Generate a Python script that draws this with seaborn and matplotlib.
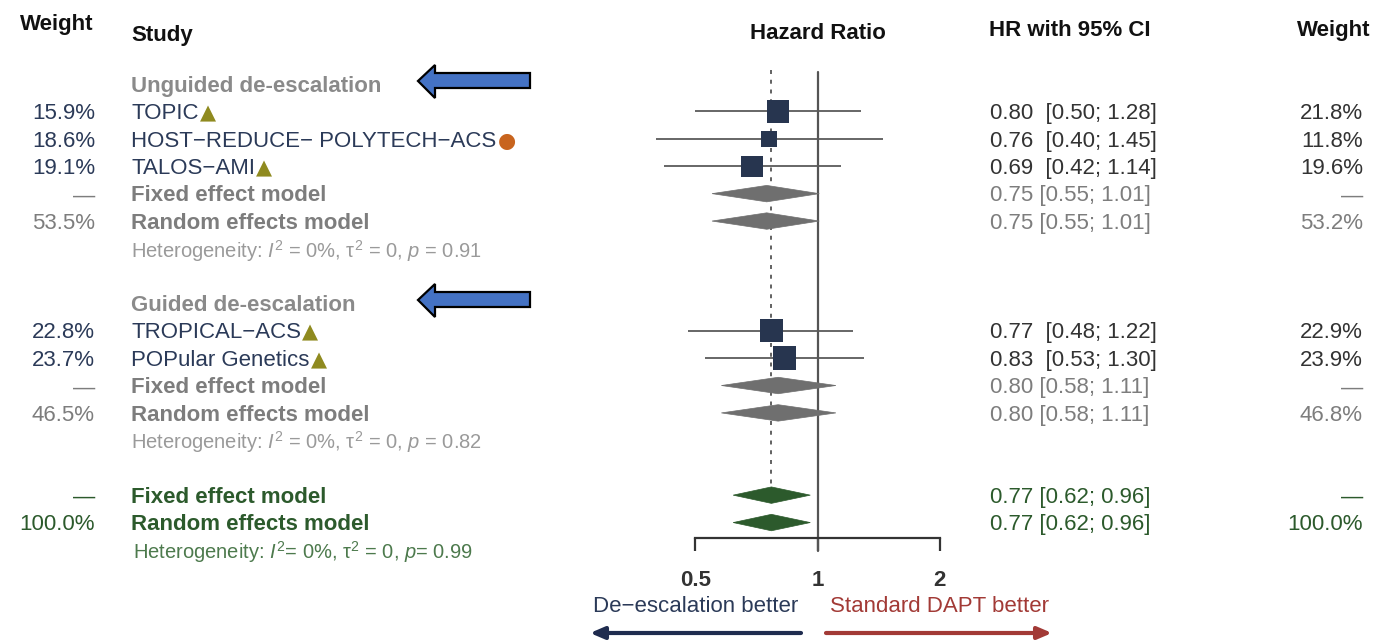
import numpy as np
import pandas as pd
import matplotlib
matplotlib.use("Agg")
import matplotlib.pyplot as plt
import seaborn as sns
from matplotlib.patches import Polygon
from matplotlib.ticker import FixedLocator, FixedFormatter, NullLocator

sns.set_theme(style="ticks")
plt.rcParams["font.family"] = ["Liberation Sans", "DejaVu Sans"]
plt.rcParams["mathtext.fontset"] = "custom"
plt.rcParams["mathtext.rm"] = "Liberation Sans"
plt.rcParams["mathtext.it"] = "Liberation Sans:italic"
plt.rcParams["mathtext.bf"] = "Liberation Sans:bold"

# ---- individual trials ----
study_names = ["TOPIC", "HOST−REDUCE− POLYTECH−ACS", "TALOS−AMI",
               "TROPICAL−ACS", "POPular Genetics"]
study_hr = [0.80, 0.76, 0.69, 0.77, 0.83]
study_lo = [0.50, 0.40, 0.42, 0.48, 0.53]
study_hi = [1.28, 1.45, 1.14, 1.22, 1.30]
study_weight_left = ["15.9%", "18.6%", "19.1%", "22.8%", "23.7%"]
study_weight_right = [21.8, 11.8, 19.6, 22.9, 23.9]
study_badge = ["▲", "●", "▲", "▲", "▲"]

# ---- pooled estimates (subgroup 1, subgroup 2, overall) ----
model_labels = ["Fixed effect model", "Random effects model"] * 3
model_hr = [0.75, 0.75, 0.80, 0.80, 0.77, 0.77]
model_lo = [0.55, 0.55, 0.58, 0.58, 0.62, 0.62]
model_hi = [1.01, 1.01, 1.11, 1.11, 0.96, 0.96]
model_weight_left = ["—", "53.5%", "—", "46.5%", "—", "100.0%"]
model_weight_right = ["—", "53.2%", "—", "46.8%", "—", "100.0%"]

group_titles = ["Unguided de-escalation", "Guided de-escalation"]
heterogeneity = [
    r"Heterogeneity: $I^2$ = 0%, τ$^2$ = 0, $p$ = 0.91",
    r"Heterogeneity: $I^2$ = 0%, τ$^2$ = 0, $p$ = 0.82",
    r"Heterogeneity: $I^2$= 0%, τ$^2$ = 0, $p$= 0.99",
]

tick_values = [0.5, 1, 2]
tick_labels = ["0.5", "1", "2"]
favours = ["De−escalation better", "Standard DAPT better"]

# ---- row layout ----
group_rows = [0, 8]
study_rows = [1, 2, 3, 9, 10]
model_rows = [4, 5, 11, 12, 15, 16]
het_rows = [6, 13, 17]

# ---- colours ----
NAVY = "#2b3a58"
SQUARE = "#27354f"
GREY_TXT = "#7d7d7d"
GREY_LIGHT = "#9a9a9a"
GREY_DIA = "#6f6f6f"
GREEN = "#2c5a2c"
GREEN_LIGHT = "#4d7a4d"
DARK = "#333333"
RED = "#a23a36"

W, H = 1376, 641
ROW0, ROWH = 84.0, 27.41
TXT_SHIFT = 0.08


def row_of(py):
    return (py - ROW0) / ROWH


fig = plt.figure(figsize=(W / 100, H / 100), dpi=100)
ax = fig.add_axes([0, 0, 1, 1])
ax.set_xscale("log", base=2)
X_ONE, X_OCT = 817.5, 122.3
ax.set_xlim(2 ** (-X_ONE / X_OCT), 2 ** ((W - X_ONE) / X_OCT))
ax.set_ylim(row_of(H), row_of(0))

yt = ax.get_yaxis_transform()


def put(px, row, s, **kw):
    kw.setdefault("fontsize", 16)
    kw.setdefault("va", "center")
    return ax.text(px / W, row + TXT_SHIFT, s, transform=yt, **kw)


# reference lines
ax.plot([1, 1], [row_of(72), row_of(551)], color="#555555", lw=1.6, zorder=1)
ax.plot([model_hr[5], model_hr[5]], [row_of(70), row_of(487)], color="#555555",
        lw=1.3, ls=(0, (2.2, 3.2)), zorder=1)

# confidence intervals and weighted squares
ax.hlines(study_rows, study_lo, study_hi, color="#5a5a5a", lw=1.3, zorder=2)
df = pd.DataFrame({"hr": study_hr, "row": study_rows, "w": study_weight_right})
wmin, wmax = min(study_weight_right), max(study_weight_right)
sns.scatterplot(data=df, x="hr", y="row", size="w",
                sizes=(12 * wmin, 12 * wmax), size_norm=(wmin, wmax),
                marker="s", color=SQUARE, edgecolor=SQUARE, linewidth=0,
                legend=False, ax=ax, zorder=3)

# pooled diamonds
half = 0.3
for i, (r, m, lo, hi) in enumerate(zip(model_rows, model_hr, model_lo, model_hi)):
    col = GREEN if i >= 4 else GREY_DIA
    ax.add_patch(Polygon([(lo, r), (m, r - half), (hi, r), (m, r + half)],
                         closed=True, facecolor=col, edgecolor=col, lw=0.5,
                         zorder=3))

# x axis drawn as a bracket under the plot
ax.set_xlabel("")
ax.set_ylabel("")
for s in ["top", "left", "right"]:
    ax.spines[s].set_visible(False)
ax.spines["bottom"].set_position(("data", row_of(538)))
ax.spines["bottom"].set_bounds(0.5, 2)
ax.spines["bottom"].set_color("#333333")
ax.spines["bottom"].set_linewidth(1.6)
ax.xaxis.set_major_locator(FixedLocator(tick_values))
ax.xaxis.set_major_formatter(FixedFormatter(tick_labels))
ax.xaxis.set_minor_locator(NullLocator())
ax.yaxis.set_major_locator(NullLocator())
ax.tick_params(axis="x", bottom=True, direction="out", length=9.4, width=1.6,
               color="#333333", labelsize=16, labelcolor="#333333", pad=13.5)
for lab in ax.get_xticklabels():
    lab.set_fontweight("bold")
ax.grid(False)

# column headers
put(93, row_of(22), "Weight", ha="right", fontweight="bold", color="#111111")
put(131, row_of(33), "Study", ha="left", fontweight="bold", color="#111111")
ax.text(1, row_of(31) + TXT_SHIFT, "Hazard Ratio", ha="center", va="center",
        fontsize=16, fontweight="bold", color="#111111")
put(989, row_of(28), "HR with 95% CI", ha="left", fontweight="bold", color="#111111")
put(1370, row_of(28), "Weight", ha="right", fontweight="bold", color="#111111")

# subgroup titles
for r, t in zip(group_rows, group_titles):
    put(131, r, t, ha="left", fontweight="bold", color="#8a8a8a")

# trial rows
for i, r in enumerate(study_rows):
    put(95, r, study_weight_left[i], ha="right", color=NAVY)
    name = put(131, r, study_names[i], ha="left", color=NAVY)
    badge_col = "#c8641e" if study_badge[i] == "●" else "#8f8a1f"
    ax.annotate(study_badge[i], xy=(1, 0.5), xycoords=name, xytext=(1, 0),
                textcoords="offset points", ha="left", va="center",
                fontsize=15, color=badge_col, family=["DejaVu Sans"])
    put(990, r, f"{study_hr[i]:.2f}  [{study_lo[i]:.2f}; {study_hi[i]:.2f}]",
        ha="left", color=DARK)
    put(1363, r, f"{study_weight_right[i]:.1f}%", ha="right", color=DARK)

# pooled rows
for i, r in enumerate(model_rows):
    overall = i >= 4
    col = GREEN if overall else GREY_TXT
    put(95, r, model_weight_left[i], ha="right", color=col)
    put(131, r, model_labels[i], ha="left", fontweight="bold", color=col)
    put(990, r, f"{model_hr[i]:.2f} [{model_lo[i]:.2f}; {model_hi[i]:.2f}]",
        ha="left", color=col)
    put(1363, r, model_weight_right[i], ha="right", color=col)

# heterogeneity statistics
for i, r in enumerate(het_rows):
    col = GREEN_LIGHT if i == 2 else GREY_LIGHT
    put(131 if i < 2 else 133, r, heterogeneity[i], ha="left", fontsize=14.5,
        color=col)

# direction labels and arrows
ax.text(0.5, row_of(606), favours[0], ha="center", va="center", fontsize=16,
        color=NAVY)
ax.text(2, row_of(606), favours[1], ha="center", va="center", fontsize=16,
        color=RED)


def fig_xy(px, py):
    return (px / W, 1 - py / H)


for x0, x1, c in [(801, 590, "#1f2c4f"), (826, 1052, RED)]:
    ax.annotate("", xy=fig_xy(x1, 633), xytext=fig_xy(x0, 633),
                xycoords="figure fraction", textcoords="figure fraction",
                arrowprops=dict(arrowstyle="-|>,head_length=0.7,head_width=0.3",
                                color=c, lw=3, shrinkA=0, shrinkB=0))

# highlight arrows next to the subgroup titles
for ty in (81, 300):
    pts = [(418, ty), (435, ty - 16), (435, ty - 8), (530, ty - 8),
           (530, ty + 7), (435, ty + 7), (435, ty + 17)]
    fig.patches.append(Polygon([fig_xy(*p) for p in pts], closed=True,
                               transform=fig.transFigure, facecolor="#4472c4",
                               edgecolor="black", lw=1.6, zorder=5))

fig.savefig("out.png", dpi=100)
